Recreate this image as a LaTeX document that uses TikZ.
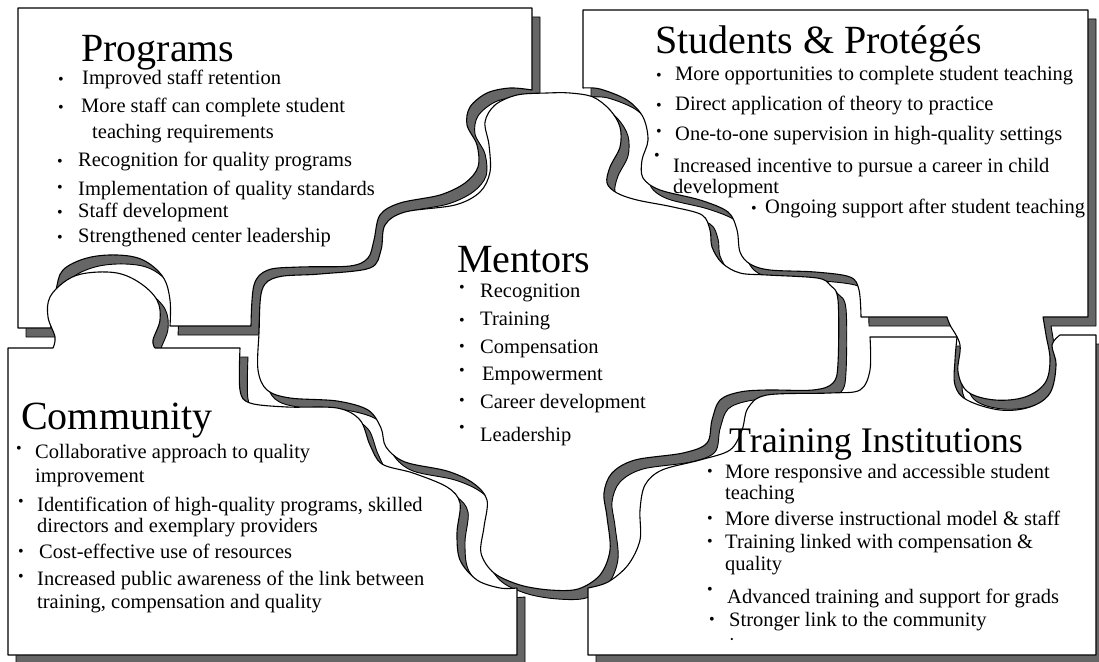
\documentclass[tikz,border=0pt]{standalone}
\usepackage{fontspec}
\setmainfont{Liberation Serif}
\newcommand\PathProg{(18,8) -- (532,8) -- (532,90) -- plot[smooth,tension=0.55] coordinates {(532,90) (510,88) (487,93) (470,107) (467,125) (477,145) (478,167) (465,183) (440,195) (400,203) (380,215) (374,240) (368,258) (350,266) (300,267) (268,270) (254,285) (251,326)} -- (170,326) -- plot[smooth,tension=0.6] coordinates {(170,326) (170,300) (163,277) (143,260) (117,255) (87,258) (63,270) (56,290) (52,310) (51,328)} -- (18,328) -- cycle}
\newcommand\PathStud{(583,10) -- (1088,10) -- (1088,317) -- (1043,317) -- plot[smooth,tension=0.6] coordinates {(1043,317) (1046,335) (1050,360) (1045,383) (1025,397) (995,400) (968,392) (958,372) (960,345) (950,325) (947,317)} -- (861,317) -- plot[smooth,tension=0.55] coordinates {(861,317) (859,290) (850,277) (815,272) (770,270) (750,264) (740,252) (737,230) (728,212) (700,200) (660,190) (643,178) (642,160) (648,140) (643,117) (627,100) (600,89) (583,88)} -- cycle}
\newcommand\PathTrain{(1096,335) -- (1096,655) -- (588,655) -- (588,588) -- plot[smooth,tension=0.55] coordinates {(588,588) (608,582) (628,565) (640,540) (640,510) (645,485) (662,470) (700,460) (730,450) (742,430) (748,408) (767,395) (830,393) (860,390) (870,370) (870,337)} -- (957,337) -- plot[smooth,tension=0.6] coordinates {(957,337) (955,360) (955,385) (967,400) (1000,410) (1030,407) (1050,393) (1056,365) (1052,345) (1060,335)} -- cycle}
\newcommand\PathComm{(8,348) -- (53,348) -- plot[smooth,tension=0.6] coordinates {(53,348) (55,337) (48,317) (50,297) (67,280) (87,273) (117,273) (140,283) (157,300) (160,320) (153,340) (155,348)} -- (240,348) -- plot[smooth,tension=0.55] coordinates {(240,348) (240,390) (250,403) (287,407) (337,408) (360,420) (370,445) (382,464) (413,473) (447,487) (460,503) (457,533) (460,560) (477,580) (500,588) (517,588)} -- (517,655) -- (8,655) -- cycle}
\newcommand\PathMent{plot[smooth cycle,tension=0.55] coordinates {(517,95) (547,93) (570,93) (593,97) (610,110) (620,127) (620,147) (610,167) (607,183) (617,193) (637,200) (673,207) (702,215) (710,230) (712,247) (722,263) (740,273) (767,275) (817,278) (830,285) (838,300) (838,363) (833,383) (813,390) (767,390) (740,392) (720,400) (712,420) (707,443) (683,453) (635,460) (612,473) (604,493) (607,517) (610,550) (600,575) (578,589) (550,590) (520,585) (494,573) (481,553) (484,527) (487,500) (473,483) (447,471) (405,462) (386,447) (381,428) (368,410) (337,401) (290,398) (267,390) (258,370) (259,333) (262,290) (278,277) (320,274) (370,268) (381,250) (385,225) (405,212) (455,205) (480,192) (490,172) (489,145) (485,122) (495,105)}}
\begin{document}
\begin{tikzpicture}[x=1pt,y=-1pt,
  piece/.style={fill=white,draw=black,line width=1.1pt,line join=round},
  pshadow/.style={fill=black!60,draw=black,line width=0.9pt,line join=round,shift={(8,9)}},
  ttl/.style={anchor=base west,inner sep=0pt,font=\fontsize{40}{42}\selectfont},
  ttlsmall/.style={anchor=base west,inner sep=0pt,font=\fontsize{36}{38}\selectfont},
  itm/.style={anchor=base west,inner sep=0pt,font=\fontsize{20.5}{22}\selectfont},
  bul/.style={anchor=base,inner sep=0pt,font=\fontsize{16}{16}\selectfont}]
\useasboundingbox (0,0) rectangle (1099,661);
\clip (0,0) rectangle (1099,661);
\fill[white] (0,0) rectangle (1099,661);
% shadows
\path[pshadow] \PathProg;
\path[pshadow] \PathStud;
\path[pshadow] \PathComm;
\path[pshadow] \PathTrain;
\path[pshadow] \PathMent;
% pieces
\path[piece] \PathMent;
\path[piece] \PathProg;
\path[piece] \PathStud;
\path[piece] \PathComm;
\path[piece] \PathTrain;
% Programs
\node[ttl] (ptitle) at (81,61) {Programs};
\node[bul] (pb1) at (61,84) {•};
\node[itm] (p1) at (82,84) {Improved staff retention};
\node[bul] (pb2) at (61,112) {•};
\node[itm] (p2) at (81,112) {More staff can complete student};
\node[itm] (p2b) at (92,138) {teaching requirements};
\node[bul] (pb3) at (60,166) {•};
\node[itm] (p3) at (78,166) {Recognition for quality programs};
\node[bul] (pb4) at (60,192) {•};
\node[itm] (p4) at (78,195) {Implementation of quality standards};
\node[bul] (pb5) at (60,217) {•};
\node[itm] (p5) at (78,217) {Staff development};
\node[bul] (pb6) at (60,242) {•};
\node[itm] (p6) at (78,242) {Strengthened center leadership};
% Students
\node[ttl] (stitle) at (655,53) {Students \& Protégés};
\node[bul] (sb1) at (659,80) {•};
\node[itm] (s1) at (675,80) {More opportunities to complete student teaching};
\node[bul] (sb2) at (659,110) {•};
\node[itm] (s2) at (675,110) {Direct application of theory to practice};
\node[bul] (sb3) at (659,136) {•};
\node[itm] (s3) at (675,140) {One-to-one supervision in high-quality settings};
\node[bul] (sb4) at (657,160) {•};
\node[itm] (s4) at (673,172) {Increased incentive to pursue a career in child};
\node[itm] (s4b) at (673,193) {development};
\node[bul] (sb5) at (754,213) {•};
\node[itm] (s5) at (765,213) {Ongoing support after student teaching};
% Mentors
\node[ttl] (mtitle) at (457,272) {Mentors};
\node[bul] (mb1) at (462,292) {•};
\node[itm] (m1) at (480,297) {Recognition};
\node[bul] (mb2) at (462,325) {•};
\node[itm] (m2) at (480,325) {Training};
\node[bul] (mb3) at (462,351) {•};
\node[itm] (m3) at (480,353) {Compensation};
\node[bul] (mb4) at (462,375) {•};
\node[itm] (m4) at (482,380) {Empowerment};
\node[bul] (mb5) at (462,405) {•};
\node[itm] (m5) at (480,408) {Career development};
\node[bul] (mb6) at (462,432) {•};
\node[itm] (m6) at (480,441) {Leadership};
% Community
\node[ttl] (ctitle) at (21,429) {Community};
\node[bul] (cb1) at (19,453) {•};
\node[itm] (c1) at (35,458) {Collaborative approach to quality};
\node[itm] (c1b) at (35,482) {improvement};
\node[bul] (cb2) at (21,506) {•};
\node[itm] (c2) at (37,511) {Identification of high-quality programs, skilled};
\node[itm] (c2b) at (37,532) {directors and exemplary providers};
\node[bul] (cb3) at (21,556) {•};
\node[itm] (c3) at (39,558) {Cost-effective use of resources};
\node[bul] (cb4) at (21,581) {•};
\node[itm] (c4) at (37,585) {Increased public awareness of the link between};
\node[itm] (c4b) at (37,608) {training, compensation and quality};
% Training Institutions
\node[ttlsmall] (ttitle) at (729,452) {Training Institutions};
\node[bul] (tb1) at (710,476) {•};
\node[itm] (t1) at (725,478) {More responsive and accessible student};
\node[itm] (t1b) at (725,499) {teaching};
\node[bul] (tb2) at (710,523) {•};
\node[itm] (t2) at (725,525) {More diverse instructional model \& staff};
\node[bul] (tb3) at (710,546) {•};
\node[itm] (t3) at (725,548) {Training linked with compensation \&};
\node[itm] (t3b) at (725,570) {quality};
\node[bul] (tb4) at (710,594) {•};
\node[itm] (t4) at (727,603) {Advanced training and support for grads};
\node[bul] (tb5) at (712,624) {•};
\node[itm] (t5) at (729,626) {Stronger link to the community};
\node[bul,font=\fontsize{9}{9}\selectfont] (tb6) at (732,642) {•};
\end{tikzpicture}
\end{document}
